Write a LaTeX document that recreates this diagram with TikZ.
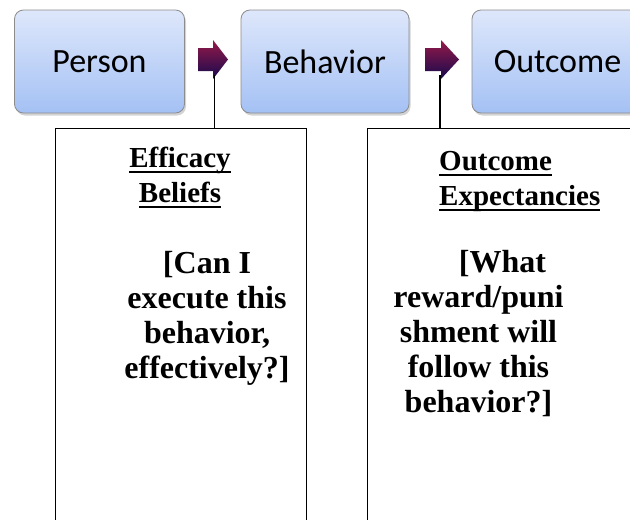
\documentclass[tikz,border=0pt]{standalone}
\usepackage{fontspec}
\setmainfont{Liberation Serif}
\newfontfamily\stagefont{Carlito}
\usetikzlibrary{shadows}

\definecolor{stagetop}{RGB}{222,231,251}
\definecolor{stagebot}{RGB}{164,193,244}
\definecolor{stageline}{RGB}{140,140,140}
\definecolor{arrowtop}{RGB}{150,25,72}
\definecolor{arrowbot}{RGB}{22,10,78}

\newcommand\ulword[1]{\setbox0\hbox{#1}\rlap{\rule[-6pt]{\wd0}{2pt}}\box0}

\begin{document}
\begin{tikzpicture}[
    x=1pt, y=-1pt,
    stage/.style={rectangle, draw=stageline, line width=0.8pt, rounded corners=9pt, top color=stagetop, bottom color=stagebot, minimum width=170pt, minimum height=103pt, drop shadow={shadow xshift=1.5pt, shadow yshift=-2.5pt, opacity=0.35}, font=\stagefont\fontsize{34}{40}\selectfont},
    panel/.style={rectangle, draw, line width=1.4pt, anchor=north west, minimum height=420pt},
    note/.style={font=\bfseries\fontsize{29}{35}\selectfont, inner sep=0pt},
    query/.style={note, font=\bfseries\fontsize{32}{35}\selectfont, align=center, anchor=base},
    flow/.style={top color=arrowtop, bottom color=arrowbot}
]
\useasboundingbox (0,0) rectangle (630,520);
\clip (0,0) rectangle (630,520);

% Stages
\node[stage] (person) at (99.5,61.5) {Person};
\node[stage, minimum width=168pt] (behavior) at (325,61.5) {Behavior};
\node[stage, minimum width=171pt] (outcome) at (557.5,61.5) {Outcome};

% Block arrows between stages
\path[flow] (198,48) -- (213,48) -- (213,40) -- (228,59.5) -- (213,79) -- (213,71) -- (198,71) -- cycle;
\path[flow] (425,48) -- (441,48) -- (441,40) -- (459,59.5) -- (441,79) -- (441,71) -- (425,71) -- cycle;
\coordinate (foot1) at (214.5,75);
\coordinate (foot2) at (440,75);

% Panels
\node[panel, minimum width=251pt] (beliefs) at (55,128) {};
\node[panel, minimum width=300pt] (expect) at (367,128) {};

% Connectors
\draw[line width=1.2pt] (foot1) -- (foot1 |- beliefs.north);
\draw[line width=1.2pt] (foot2) -- (foot2 |- expect.north);

% Panel texts (base = last line)
\node[note, align=center, anchor=base] (effhead) at (180,202) {\ulword{Efficacy}\\\ulword{Beliefs}};
\node[query] (effq) at (207,378) {[Can I\\execute this\\behavior,\\effectively?]};
\node[note, align=left, anchor=base west] (outhead) at (439,205) {\ulword{Outcome}\\\ulword{Expectancies}};
\node[query] (outq) at (478.5,412) {\hspace*{48pt}[What\\reward/puni\\shment will\\follow this\\behavior?]};
\end{tikzpicture}
\end{document}
